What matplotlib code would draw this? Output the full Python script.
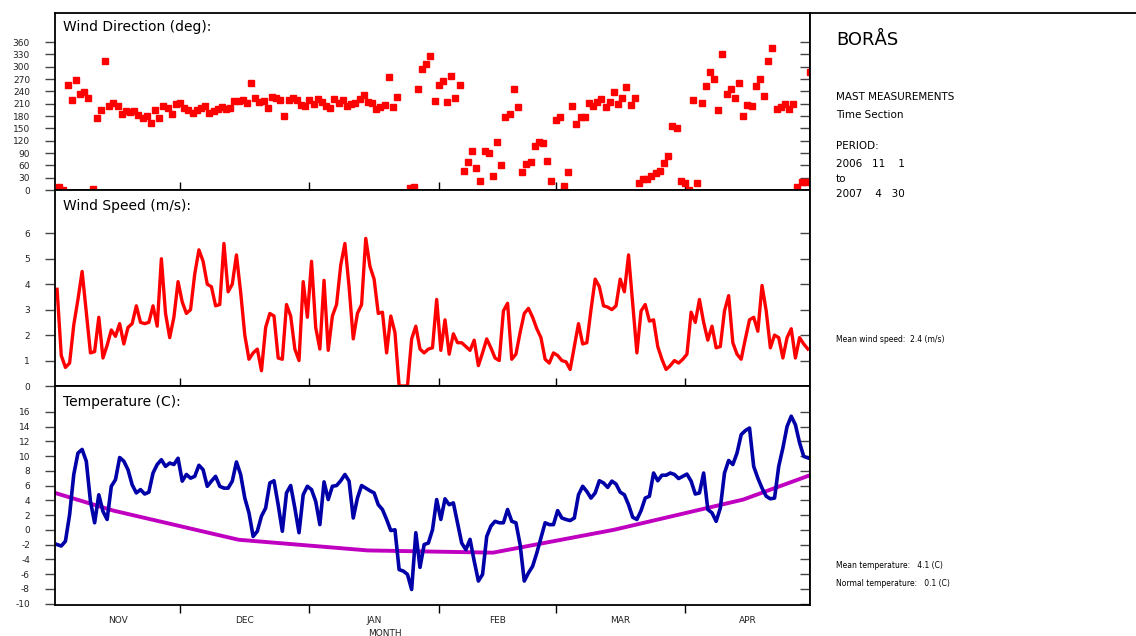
import numpy as np
import matplotlib
matplotlib.use("Agg")
import matplotlib.pyplot as plt

nan = np.nan

# daily values, 2006-11-01 .. 2007-04-30 (181 days)
direction = [
    8, 0, 255, 219, 267, 234, 239, 225, 2, 175,
    196, 315, 204, 211, 204, 186, 193, 189, 193, 182,
    176, 180, 164, 195, 175, 204, 200, 184, 209, 212,
    200, 194, 188, 195, 200, 204, 188, 193, 198, 202,
    198, 200, 216, 217, 220, 211, 260, 224, 214, 217,
    200, 227, 224, 219, 179, 219, 223, 219, 206, 205,
    218, 210, 222, 215, 205, 200, 222, 212, 220, 205,
    210, 212, 222, 232, 215, 213, 198, 201, 207, 276,
    203, 227, nan, nan, 4, 7, 246, 295, 308, 326,
    216, 255, 265, 214, 277, 223, 255, 46, 69, 94,
    53, 23, 94, 89, 34, 117, 62, 177, 184, 246,
    202, 43, 64, 69, 107, 117, 114, 70, 22, 170,
    177, 9, 43, 204, 161, 177, 177, 211, 204, 214,
    221, 202, 214, 238, 209, 223, 251, 207, 223, 16,
    27, 27, 34, 41, 46, 66, 82, 155, 150, 22,
    16, 0, 220, 16, 211, 253, 287, 271, 195, 331,
    234, 246, 223, 260, 181, 207, 204, 253, 271, 230,
    313, 345, 198, 202, 209, 198, 209, 7, 20, 20,
    287,
]

speed = [
    3.8, 1.2, 0.73, 0.9, 2.4, 3.4, 4.5, 2.9, 1.3, 1.35,
    2.7, 1.1, 1.6, 2.2, 1.95, 2.45, 1.65, 2.3, 2.45, 3.15,
    2.5, 2.45, 2.5, 3.15, 2.35, 5.0, 2.85, 1.9, 2.7, 4.1,
    3.3, 2.85, 3.0, 4.4, 5.35, 4.9, 4.0, 3.9, 3.15, 3.2,
    5.6, 3.7, 4.0, 5.15, 3.7, 2.0, 1.05, 1.3, 1.45, 0.6,
    2.3, 2.85, 2.75, 1.1, 1.05, 3.2, 2.75, 1.45, 1.0, 4.1,
    2.7, 4.9, 2.3, 1.45, 4.15, 1.4, 2.75, 3.2, 4.75, 5.6,
    3.9, 1.85, 2.85, 3.2, 5.8, 4.7, 4.2, 2.85, 2.9, 1.3,
    2.75, 2.1, 0.0, 0.0, 0.0, 1.85, 2.35, 1.45, 1.3, 1.45,
    1.5, 3.4, 1.4, 2.6, 1.25, 2.05, 1.7, 1.7, 1.55, 1.4,
    1.8, 0.8, 1.3, 1.85, 1.5, 1.1, 1.0, 2.95, 3.25, 1.05,
    1.25, 2.1, 2.85, 3.05, 2.7, 2.25, 1.9, 1.05, 0.9, 1.3,
    1.2, 1.0, 0.95, 0.65, 1.55, 2.45, 1.65, 1.7, 3.0, 4.2,
    3.9, 3.15, 3.1, 3.0, 3.15, 4.2, 3.7, 5.15, 3.2, 1.3,
    2.95, 3.2, 2.55, 2.6, 1.55, 1.05, 0.65, 0.8, 1.0, 0.9,
    1.05, 1.25, 2.9, 2.5, 3.4, 2.5, 1.8, 2.35, 1.5, 1.55,
    2.95, 3.55, 1.7, 1.25, 1.05, 1.85, 2.6, 2.7, 2.15, 3.95,
    2.95, 1.5, 2.0, 1.9, 1.1, 1.9, 2.25, 1.1, 1.9, 1.65,
    1.45,
]

temp = [
    -2.0, -2.2, -1.55, 2.05, 7.5, 10.4, 10.9, 9.3, 3.85, 0.95,
    4.75, 2.5, 1.4, 5.9, 6.8, 9.8, 9.3, 8.15, 6.1, 5.0,
    5.45, 4.85, 5.1, 7.7, 8.85, 9.5, 8.6, 9.05, 8.85, 9.7,
    6.6, 7.5, 7.0, 7.25, 8.75, 8.15, 5.9, 6.6, 7.25, 5.9,
    5.65, 5.65, 6.6, 9.2, 7.5, 4.3, 2.3, -0.9, -0.2, 1.85,
    2.95, 6.35, 6.65, 3.4, -0.2, 5.0, 6.0, 2.95, -0.4, 4.75,
    5.9, 5.45, 3.85, 0.7, 6.5, 4.1, 5.9, 6.0, 6.65, 7.5,
    6.6, 1.6, 4.3, 6.0, 5.65, 5.3, 5.0, 3.4, 2.75, 1.4,
    -0.1, 0.0, -5.4, -5.6, -6.05, -8.1, -0.4, -5.1, -2.0, -1.8,
    0.0, 4.1, 1.4, 4.2, 3.4, 3.65, 0.95, -1.8, -2.7, -1.3,
    -4.25, -6.95, -6.05, -0.9, 0.5, 1.15, 0.95, 0.95, 2.75, 1.15,
    0.95, -2.0, -6.95, -5.85, -4.95, -3.15, -1.1, 0.95, 0.7, 0.7,
    2.6, 1.6, 1.4, 1.25, 1.6, 4.75, 5.9, 5.2, 4.3, 5.0,
    6.65, 6.35, 5.75, 6.6, 6.2, 5.1, 4.75, 3.4, 1.7, 1.4,
    2.6, 4.3, 4.55, 7.7, 6.65, 7.4, 7.4, 7.7, 7.5, 6.95,
    7.25, 7.55, 6.6, 4.85, 5.0, 7.7, 2.75, 2.3, 1.15, 2.95,
    7.7, 9.4, 8.85, 10.4, 12.9, 13.45, 13.8, 8.6, 7.0, 5.65,
    4.55, 4.2, 4.3, 8.6, 11.1, 14.0, 15.4, 14.25, 11.8, 9.95,
    9.75,
]

# normal temperature (monthly normals, mid-month)
normal_days = [0, 14, 44, 75, 105, 134, 165, 181]
normal_temp = [5.0, 2.6, -1.35, -2.8, -3.1, 0.0, 4.1, 7.4]

month_starts = [30, 61, 92, 120, 151]
month_mid = [15, 45.5, 76.5, 106, 135.5, 166]
month_names = ["NOV", "DEC", "JAN", "FEB", "MAR", "APR"]

W, H = 1136, 636
plt.rcParams['font.family'] = ['DejaVu Sans']
plt.rcParams['axes.unicode_minus'] = False
fig = plt.figure(figsize=(W / 100, H / 100), dpi=100)

x0, x1 = 55 / W, 810 / W


def fy(py):
    return 1 - py / H


def panel(top, bottom):
    ax = fig.add_axes([x0, fy(bottom), x1 - x0, fy(top) - fy(bottom)])
    ax.set_xlim(0, 181)
    for s in ax.spines.values():
        s.set_linewidth(1.3)
        s.set_color('black')
    ax.yaxis.set_ticks_position('both')
    ax.tick_params(axis='y', which='major', direction='out', length=7, width=1,
                   pad=11, labelsize=6.5, labelcolor='#222222', color='#444444')
    ax.tick_params(axis='y', which='major', right=True, labelright=False)
    ax.set_xticks(month_starts)
    ax.set_xticklabels([])
    return ax


ax1 = panel(13, 190)
ax2 = panel(190, 386)
ax3 = panel(386, 605)

# right spine ticks point inward
for ax in (ax1, ax2, ax3):
    for t in ax.yaxis.get_major_ticks():
        t.tick2line.set_marker(matplotlib.lines.TICKLEFT)
        t.tick2line.set_markersize(7)

for ax in (ax1, ax2):
    ax.tick_params(axis='x', direction='in', length=6, width=1, color='black')
ax3.tick_params(axis='x', direction='out', length=6, width=1, color='black')

days = np.arange(181) + 0.5

# wind direction
ax1.plot(np.arange(181) + 1.0, direction, linestyle='none', marker='s',
         markersize=4.5, color='#ff0000', clip_on=False, zorder=3)
ax1.set_ylim(0, 431)
ax1.set_yticks(np.arange(0, 361, 30))
ax1.text(0.01, 0.96, "Wind Direction (deg):", transform=ax1.transAxes,
         fontsize=10, va='top', ha='left')

# wind speed
ax2.plot(days, speed, color='#ff0000', linewidth=2.4, solid_joinstyle='round')
ax2.set_ylim(0, 7.7)
ax2.set_yticks(np.arange(0, 7, 1))
ax2.text(0.01, 0.955, "Wind Speed (m/s):", transform=ax2.transAxes,
         fontsize=10, va='top', ha='left')

# temperature
ax3.plot(normal_days, normal_temp, color='#c000c0', linewidth=2.8)
ax3.plot(days, temp, color='#0000a8', linewidth=2.6, solid_joinstyle='round')
ax3.set_ylim(-10.2, 19.5)
ax3.set_yticks(np.arange(-10, 17, 2))
ax3.text(0.01, 0.96, "Temperature (C):", transform=ax3.transAxes,
         fontsize=10, va='top', ha='left')
ax3.set_xticks(month_mid, minor=True)
ax3.set_xticklabels(month_names, minor=True)
ax3.tick_params(axis='x', which='minor', length=0, pad=8, labelsize=6.5,
                labelcolor='#222222')
fig.text(385 / W, fy(633), "MONTH", fontsize=6.5, ha='center', va='center',
         color='#222222')

# info panel on the right
axr = fig.add_axes([x1, fy(605), 1.02 - x1, fy(13) - fy(605)])
axr.set_xticks([])
axr.set_yticks([])
for side in ('right', 'bottom'):
    axr.spines[side].set_visible(False)
axr.spines['top'].set_linewidth(1.3)
axr.spines['left'].set_linewidth(1.3)

tx = 836 / W
fig.text(tx, fy(40), "BORÅS", fontsize=13, va='center')
info = [
    (97, "MAST MEASUREMENTS"),
    (115, "Time Section"),
    (146, "PERIOD:"),
    (164, "2006   11    1"),
    (179, "to"),
    (194, "2007    4   30"),
]
for py, s in info:
    fig.text(tx, fy(py), s, fontsize=7.5, va='center')

fig.text(tx, fy(340), "Mean wind speed:  2.4 (m/s)", fontsize=5.5, va='center')
fig.text(tx, fy(565), "Mean temperature:   4.1 (C)", fontsize=5.5, va='center')
fig.text(tx, fy(584), "Normal temperature:   0.1 (C)", fontsize=5.5, va='center')

fig.savefig("out.png", dpi=100)
